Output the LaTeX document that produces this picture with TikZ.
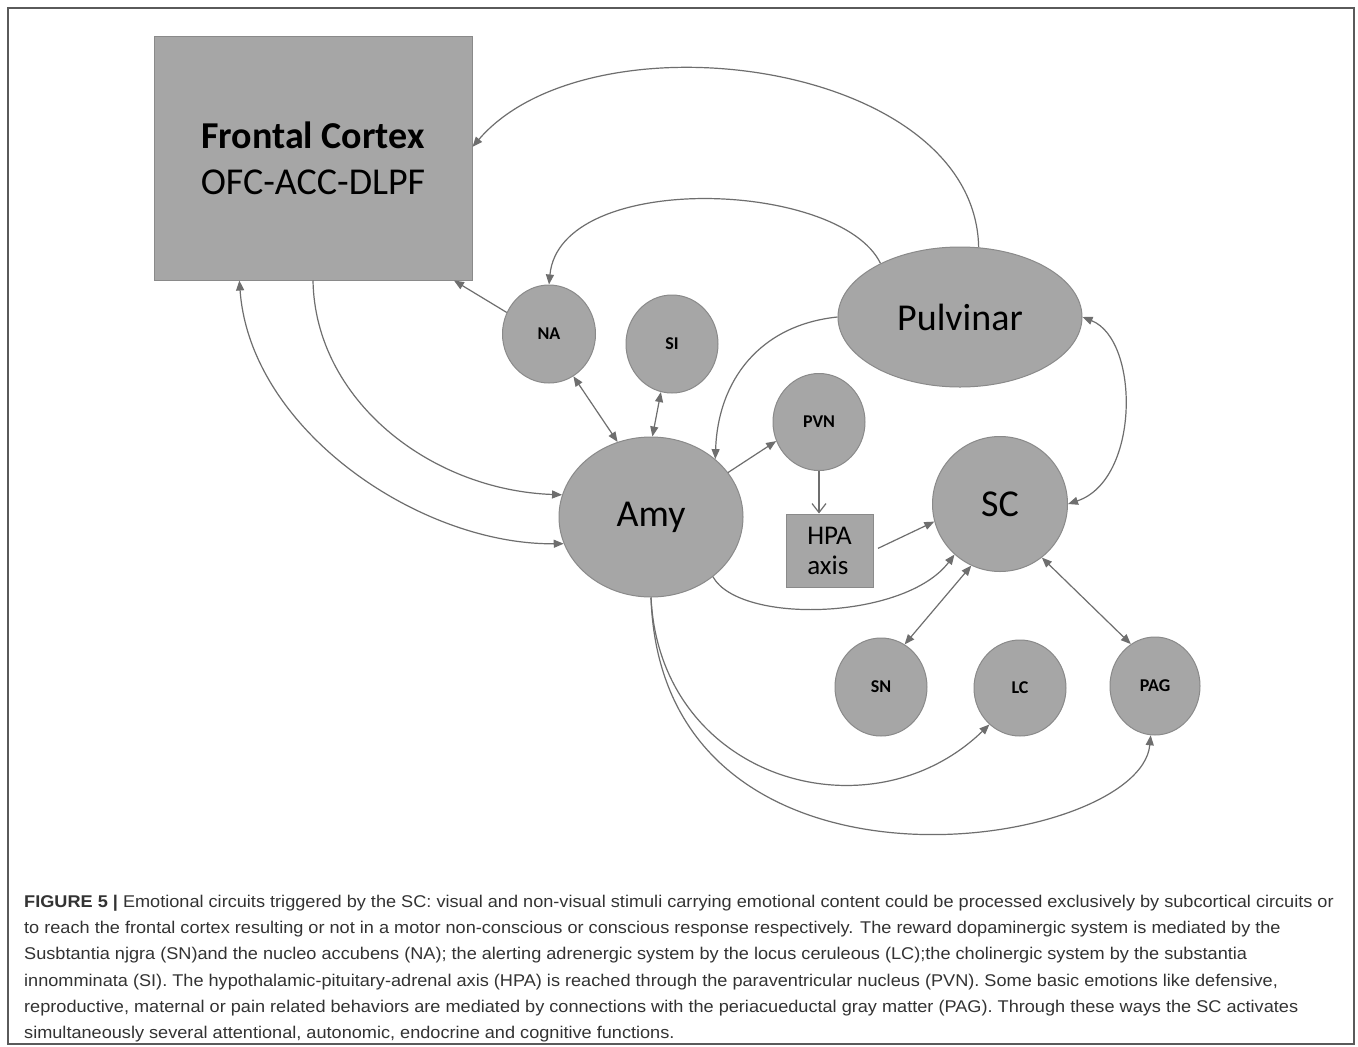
\documentclass[tikz,border=0pt]{standalone}
\usepackage{fontspec}
\setmainfont{Liberation Sans}
\newfontfamily\calfont{Carlito}
\newfontfamily\capfont[FakeStretch=1.067]{Liberation Sans}
\usetikzlibrary{shapes.geometric,arrows.meta}

\definecolor{nodegray}{HTML}{A6A6A6}
\definecolor{edgegray}{HTML}{8A8A8A}
\definecolor{wiregray}{HTML}{6E6E6E}
\definecolor{captext}{HTML}{333333}
\definecolor{framegray}{HTML}{5A5A5A}

\tikzset{
  region/.style={draw=edgegray, fill=nodegray, line width=1pt, inner sep=0pt, text=black},
  oval/.style={region, ellipse},
  block/.style={region, rectangle},
  bigtext/.style={font=\calfont\fontsize{38}{46}\selectfont},
  smalltext/.style={font=\calfont\bfseries\fontsize{18}{20}\selectfont},
  wire/.style={draw=wiregray, line width=1.2pt, -{Triangle[length=10pt,width=8pt]}},
  wiretwo/.style={draw=wiregray, line width=1.2pt, {Triangle[length=10pt,width=8pt]}-{Triangle[length=10pt,width=8pt]}},
  openwire/.style={draw=wiregray, line width=1.2pt, -{Straight Barb[length=9pt,width=14pt]}},
}

\begin{document}
\begin{tikzpicture}[x=1pt, y=-1pt]
\useasboundingbox (0,0) rectangle (1358,1047);
\fill[white] (0,0) rectangle (1358,1047);
\draw[framegray, line width=1.5pt] (8,8) rectangle (1354,1044);

% structures
\node[block, bigtext, align=center, minimum width=318pt, minimum height=244pt] (fc) at (313,158)
  {{\bfseries Frontal Cortex}\\OFC-ACC-DLPF};
\node[oval, bigtext, minimum width=244pt, minimum height=140pt] (pulv) at (960,317) {Pulvinar};
\node[oval, bigtext, minimum width=184pt, minimum height=160pt] (amy) at (651,517) {Amy};
\node[oval, bigtext, minimum width=135pt, minimum height=135pt] (sc) at (1000,504) {SC};
\node[oval, smalltext, minimum width=93pt, minimum height=98pt] (na) at (549,334) {NA};
\node[oval, smalltext, minimum width=92pt, minimum height=98pt] (si) at (672,344) {SI};
\node[oval, smalltext, minimum width=92pt, minimum height=97pt] (pvn) at (819,422) {PVN};
\node[block, font=\calfont\fontsize{27}{30}\selectfont, align=left, minimum width=87pt, minimum height=73pt] (hpa) at (829.5,550.5) {HPA\\axis};
\node[oval, smalltext, minimum width=92pt, minimum height=98pt] (sn) at (881,687) {SN};
\node[oval, smalltext, minimum width=92pt, minimum height=96pt] (lc) at (1020,688) {LC};
\node[oval, smalltext, minimum width=90pt, minimum height=98pt] (pag) at (1155,686) {PAG};

% pulvinar projections
\draw[wire] (pulv.75) .. controls (975,60) and (590,10) .. (fc.4);
\draw[wire] (pulv.146) .. controls (840,180) and (560,170) .. (na.90);
\draw[wire] (pulv.180) .. controls (760,325) and (718,380) .. (amy.42);
\draw[wiretwo] (pulv.0) .. controls (1140,340) and (1140,480) .. (sc.0);

% nucleus accumbens, substantia innominata, PVN
\draw[wire] (na.153) -- (fc.-41);
\draw[wiretwo] (na.-60) -- (amy.114);
\draw[wiretwo] (si.-103) -- (amy.89);
\draw[wire] (amy.30) -- (pvn.204);
\draw[openwire] (pvn.south) -- (pvn.south |- hpa.north);
\draw[wire, shorten <=5pt] (hpa.east) -- (sc.195);

% colliculus links
\draw[wire] (amy.-44) .. controls (740,625) and (905,620) .. (sc.228);
\draw[wiretwo] (sn.61) -- (sc.245);
\draw[wiretwo] (sc.-52) -- (pag.120);

% cortex loops
\draw[wiretwo] (fc.-121) .. controls (250,430) and (420,545) .. (amy.197);
\draw[wire] (fc.south) .. controls (315,400) and (430,490) .. (amy.166);

% brainstem outputs
\draw[wire] (amy.270) .. controls (660,780) and (870,840) .. (lc.230);
\draw[wire] (amy.270) .. controls (662,925) and (1140,850) .. (pag.265);

% caption
\node[anchor=north west, align=left, inner sep=0pt, text=captext,
      font=\capfont\fontsize{17}{26.2}\selectfont] (caption) at (24,895)
{{\bfseries FIGURE 5 |} Emotional circuits triggered by the SC: visual and non-visual stimuli carrying emotional content could be processed exclusively by subcortical circuits or\\
to reach the frontal cortex resulting or not in a motor non-conscious or conscious response respectively. The reward dopaminergic system is mediated by the\\
Susbtantia njgra (SN)and the nucleo accubens (NA); the alerting adrenergic system by the locus ceruleous (LC);the cholinergic system by the substantia\\
innomminata (SI). The hypothalamic-pituitary-adrenal axis (HPA) is reached through the paraventricular nucleus (PVN). Some basic emotions like defensive,\\
reproductive, maternal or pain related behaviors are mediated by connections with the periacueductal gray matter (PAG). Through these ways the SC activates\\
simultaneously several attentional, autonomic, endocrine and cognitive functions.};
\end{tikzpicture}
\end{document}
